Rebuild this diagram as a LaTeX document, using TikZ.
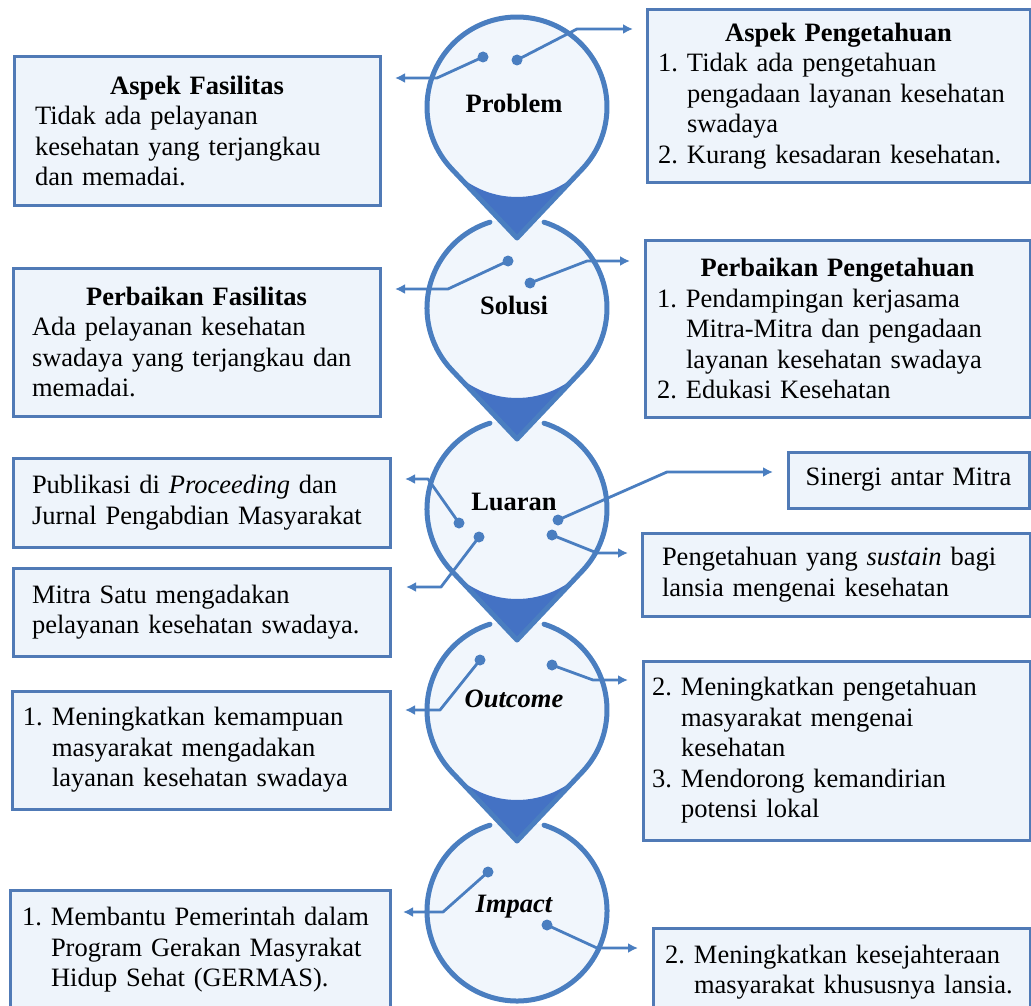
\documentclass[tikz,border=0pt]{standalone}
\usepackage{fontspec}
\setmainfont{Liberation Serif}
\usetikzlibrary{arrows.meta,calc}
\definecolor{ringblue}{RGB}{74,126,192}
\definecolor{darkblue}{RGB}{68,114,196}
\definecolor{boxline}{RGB}{80,122,182}
\definecolor{boxfill}{RGB}{238,244,251}
\definecolor{circfill}{RGB}{241,246,252}
\newcommand\itmnum[1]{\makebox[29pt][l]{#1}}
\newcommand\itmind{\hspace*{29pt}}
\begin{document}
\begin{tikzpicture}[x=1pt,y=1pt,
  box/.style={draw=boxline, line width=3pt, fill=boxfill, anchor=north west, align=left,
    inner ysep=0pt, outer sep=0pt, font=\fontsize{26.5}{30.5}\selectfont},
  lbl/.style={font=\fontsize{26.5}{30.5}\selectfont\bfseries, inner sep=0pt},
  ilbl/.style={font=\fontsize{26.5}{30.5}\selectfont\bfseries\itshape, inner sep=0pt},
  dot/.style={circle, fill=ringblue, inner sep=0pt, minimum size=11pt},
  conn/.style={draw=ringblue, line width=2.8pt, line join=round, -{Latex[length=10pt,width=10pt]}},
  ring/.style={draw=ringblue, line width=5pt, line cap=round, line join=round},
]
\useasboundingbox (0,-1006) rectangle (1031,0);
\fill[white] (0,-1006) rectangle (1031,0);

% circle centres and tips
\coordinate (c1) at (517,-107); \coordinate (t1) at (517,-238);
\coordinate (c2) at (517,-308); \coordinate (t2) at (517,-439);
\coordinate (c3) at (517,-509); \coordinate (t3) at (517,-640);
\coordinate (c4) at (517,-710); \coordinate (t4) at (517,-841);
\coordinate (c5) at (517,-911);

% light fills
\foreach \c in {c1,c2,c3,c4,c5} \fill[circfill] (\c) circle[radius=90];

% dark triangles
\foreach \c/\t in {c1/t1,c2/t2,c3/t3,c4/t4}
  \fill[darkblue] ($(\c)+(-43.4:90)$) arc[start angle=-43.4,end angle=-136.6,radius=90] -- (\t) -- cycle;

% outlines
\draw[ring] ($(c1)+(-43.4:90)$) arc[start angle=-43.4,end angle=223.4,radius=90] -- (t1) -- cycle;
\foreach \c/\t in {c2/t2,c3/t3,c4/t4}
  \draw[ring] ($(\c)+(107.5:90)$) arc[start angle=107.5,end angle=223.4,radius=90] -- (\t)
     -- ($(\c)+(-43.4:90)$) arc[start angle=-43.4,end angle=72.5,radius=90];
\draw[ring] ($(c5)+(107.5:90)$) arc[start angle=107.5,end angle=432.5,radius=90];

% labels
\node[lbl] (lprob) at (514,-103) {Problem};
\node[lbl] (lsol) at (514,-305) {Solusi};
\node[lbl] (llua) at (514,-502) {Luaran};
\node[ilbl] (lout) at (514,-699) {Outcome};
\node[ilbl] (limp) at (514,-907) {Impact};

% boxes left
\node[box, text width=324pt, inner xsep=21pt, minimum height=148pt] (L1) at (14,-57)
 {\makebox[\hsize][c]{\textbf{Aspek Fasilitas}}\\Tidak ada pelayanan\\kesehatan yang terjangkau\\dan memadai.};
\node[box, text width=329pt, inner xsep=19pt, minimum height=148pt] (L2) at (13,-268)
 {\makebox[\hsize][c]{\textbf{Perbaikan Fasilitas}}\\Ada pelayanan kesehatan\\swadaya yang terjangkau dan\\memadai.};
\node[box, text width=339pt, inner xsep=19pt, minimum height=89pt] (L3) at (13,-458)
 {Publikasi di \textit{Proceeding} dan\\Jurnal Pengabdian Masyarakat};
\node[box, text width=339pt, inner xsep=19pt, minimum height=88pt] (L4) at (13,-568)
 {Mitra Satu mengadakan\\pelayanan kesehatan swadaya.};
\node[box, text width=356pt, inner xsep=11pt, minimum height=118pt] (L5) at (12,-691)
 {\itmnum{1.}Meningkatkan kemampuan\\\itmind masyarakat mengadakan\\\itmind layanan kesehatan swadaya};
\node[box, text width=356pt, inner xsep=12pt, minimum height=120pt] (L6) at (10,-890)
 {\itmnum{1.}Membantu Pemerintah dalam\\\itmind Program Gerakan Masyrakat\\\itmind Hidup Sehat (GERMAS).};

% boxes right
\node[box, text width=361pt, inner xsep=11pt, minimum height=172pt] (R1) at (647,-10)
 {\makebox[\hsize][c]{\textbf{Aspek Pengetahuan}}\\\itmnum{1.}Tidak ada pengetahuan\\\itmind pengadaan layanan kesehatan\\\itmind swadaya\\\itmnum{2.}Kurang kesadaran kesehatan.};
\node[box, text width=361pt, inner xsep=12pt, minimum height=177pt] (R2) at (645,-240)
 {\makebox[\hsize][c]{\textbf{Perbaikan Pengetahuan}}\\\itmnum{1.}Pendampingan kerjasama\\\itmind Mitra-Mitra dan pengadaan\\\itmind layanan kesehatan swadaya\\\itmnum{2.}Edukasi Kesehatan};
\node[box, text width=217pt, inner xsep=12pt, minimum height=56pt, align=center] (R3) at (788,-452)
 {Sinergi antar Mitra};
\node[box, text width=348pt, inner xsep=20pt, minimum height=83pt] (R4) at (642,-533)
 {Pengetahuan yang \textit{sustain} bagi\\lansia mengenai kesehatan};
\node[box, text width=369pt, inner xsep=9pt, minimum height=179pt] (R5) at (643,-661)
 {\itmnum{2.}Meningkatkan pengetahuan\\\itmind masyarakat mengenai\\\itmind kesehatan\\\itmnum{3.}Mendorong kemandirian\\\itmind potensi lokal};
\node[box, text width=353pt, inner xsep=12pt, minimum height=88pt] (R6) at (653,-928)
 {\itmnum{2.}Meningkatkan kesejahteraan\\\itmind masyarakat khususnya lansia.};

% dots
\node[dot] (pdl) at (483,-57) {};   \node[dot] (pdr) at (517,-60) {};
\node[dot] (sdl) at (508,-261) {};  \node[dot] (sdr) at (530,-283) {};
\node[dot] (ldl1) at (459,-523) {}; \node[dot] (ldl2) at (479,-537) {};
\node[dot] (ldr1) at (558,-520) {}; \node[dot] (ldr2) at (552,-535) {};
\node[dot] (odl) at (480,-660) {};  \node[dot] (odr) at (552,-665) {};
\node[dot] (idl) at (488,-872) {};  \node[dot] (idr) at (547,-925) {};

% bends and tips
\coordinate (pbl) at (437,-78);  \coordinate (ptl) at (395,-78);
\coordinate (pbr) at (577,-29);  \coordinate (ptr) at (633,-29);
\coordinate (sbl) at (448,-289); \coordinate (stl) at (395,-289);
\coordinate (sbr) at (587,-261); \coordinate (str) at (630,-261);
\coordinate (lbl1) at (428,-479); \coordinate (ltl1) at (405,-479);
\coordinate (lbl2) at (441,-587); \coordinate (ltl2) at (406,-587);
\coordinate (lbr1) at (667,-472); \coordinate (ltr1) at (773,-472);
\coordinate (lbr2) at (597,-553); \coordinate (ltr2) at (628,-553);
\coordinate (obl) at (440,-710); \coordinate (otl) at (405,-710);
\coordinate (obr) at (593,-680); \coordinate (otr) at (628,-680);
\coordinate (ibl) at (443,-912); \coordinate (itl) at (403,-912);
\coordinate (ibr) at (597,-948); \coordinate (itr) at (638,-948);

% connectors
\draw[conn] (pdl.center) -- (pbl) -- (ptl);
\draw[conn] (pdr.center) -- (pbr) -- (ptr);
\draw[conn] (sdl.center) -- (sbl) -- (stl);
\draw[conn] (sdr.center) -- (sbr) -- (str);
\draw[conn] (ldl1.center) -- (lbl1) -- (ltl1);
\draw[conn] (ldl2.center) -- (lbl2) -- (ltl2);
\draw[conn] (ldr1.center) -- (lbr1) -- (ltr1);
\draw[conn] (ldr2.center) -- (lbr2) -- (ltr2);
\draw[conn] (odl.center) -- (obl) -- (otl);
\draw[conn] (odr.center) -- (obr) -- (otr);
\draw[conn] (idl.center) -- (ibl) -- (itl);
\draw[conn] (idr.center) -- (ibr) -- (itr);
\end{tikzpicture}
\end{document}
